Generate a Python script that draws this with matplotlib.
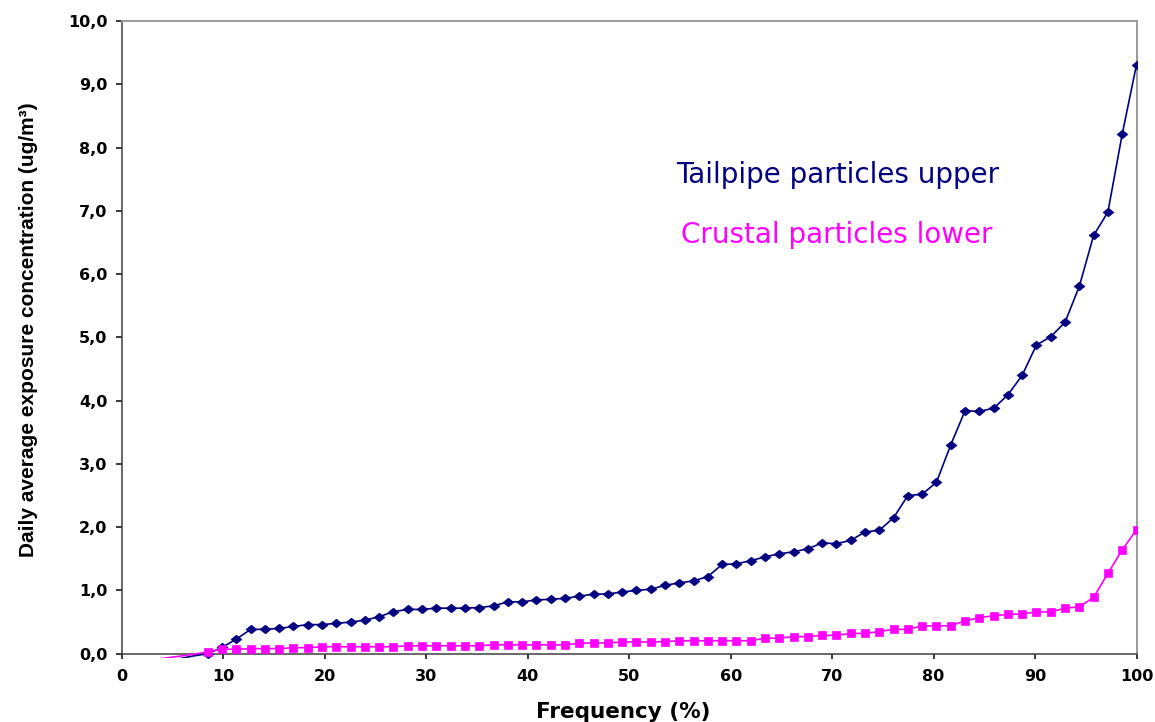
import matplotlib
matplotlib.use("Agg")
import matplotlib.pyplot as plt
from matplotlib import font_manager
from matplotlib.path import Path

# ---------------- data ----------------
frequency = [1.41, 2.82, 4.23, 5.63, 7.04, 8.45, 9.86, 11.27, 12.68, 14.08,
             15.49, 16.90, 18.31, 19.72, 21.13, 22.54, 23.94, 25.35, 26.76, 28.17,
             29.58, 30.99, 32.39, 33.80, 35.21, 36.62, 38.03, 39.44, 40.85, 42.25,
             43.66, 45.07, 46.48, 47.89, 49.30, 50.70, 52.11, 53.52, 54.93, 56.34,
             57.75, 59.15, 60.56, 61.97, 63.38, 64.79, 66.20, 67.61, 69.01, 70.42,
             71.83, 73.24, 74.65, 76.06, 77.46, 78.87, 80.28, 81.69, 83.10, 84.51,
             85.92, 87.32, 88.73, 90.14, 91.55, 92.96, 94.37, 95.77, 97.18, 98.59,
             100.00]

tailpipe_upper = [-0.50, -0.30, -0.15, -0.08, -0.035, 0.00, 0.10, 0.23, 0.385, 0.385,
                  0.40, 0.43, 0.46, 0.46, 0.48, 0.50, 0.53, 0.585, 0.665, 0.70,
                  0.70, 0.72, 0.72, 0.72, 0.73, 0.755, 0.82, 0.82, 0.85, 0.86,
                  0.875, 0.91, 0.94, 0.945, 0.975, 1.00, 1.02, 1.08, 1.12, 1.15,
                  1.22, 1.41, 1.42, 1.47, 1.53, 1.58, 1.61, 1.66, 1.75, 1.74,
                  1.79, 1.925, 1.95, 2.15, 2.50, 2.52, 2.71, 3.30, 3.84, 3.83,
                  3.88, 4.09, 4.40, 4.88, 5.01, 5.24, 5.81, 6.61, 6.98, 8.21,
                  9.31]

crustal_lower = [-0.10, -0.10, -0.07, -0.04, -0.01, 0.03, 0.07, 0.07, 0.08, 0.08,
                 0.08, 0.095, 0.095, 0.11, 0.11, 0.11, 0.11, 0.11, 0.11, 0.125,
                 0.125, 0.125, 0.125, 0.125, 0.125, 0.14, 0.14, 0.14, 0.14, 0.14,
                 0.14, 0.165, 0.17, 0.17, 0.185, 0.185, 0.185, 0.19, 0.205, 0.205,
                 0.205, 0.205, 0.205, 0.205, 0.245, 0.245, 0.27, 0.27, 0.29, 0.29,
                 0.32, 0.32, 0.35, 0.385, 0.385, 0.44, 0.44, 0.44, 0.52, 0.57,
                 0.60, 0.62, 0.63, 0.66, 0.66, 0.72, 0.74, 0.89, 1.27, 1.64,
                 1.96]

x_ticks = [0, 10, 20, 30, 40, 50, 60, 70, 80, 90, 100]
x_tick_labels = ["0", "10", "20", "30", "40", "50", "60", "70", "80", "90", "100"]
y_ticks = [0, 1, 2, 3, 4, 5, 6, 7, 8, 9, 10]
y_tick_labels = ["0,0", "1,0", "2,0", "3,0", "4,0", "5,0", "6,0", "7,0", "8,0", "9,0", "10,0"]

series_names = ["Tailpipe particles upper", "Crustal particles lower"]
x_label = "Frequency (%)"
y_label = "Daily average exposure concentration (ug/m³)"

NAVY = "#000080"
MAGENTA = "#FF00FF"

# ---------------- figure ----------------
W, H = 1155, 722
fig = plt.figure(figsize=(W / 100, H / 100), dpi=100)
fig.patch.set_facecolor("white")

ax = fig.add_axes([122 / W, (H - 657.5) / H, (1136.5 - 122) / W, (657.5 - 21) / H])
ax.set_xlim(0, 100)
ax.set_ylim(-0.06, 10)

diamond = Path([(0, 1), (1.25, 0), (0, -1), (-1.25, 0), (0, 1)],
               [Path.MOVETO, Path.LINETO, Path.LINETO, Path.LINETO, Path.CLOSEPOLY])

ax.plot(frequency, tailpipe_upper, color=NAVY, lw=1.2, marker=diamond,
        markersize=7.8, markerfacecolor=NAVY, markeredgecolor=NAVY,
        markeredgewidth=0.5, markevery=slice(5, None), zorder=3)
ax.plot(frequency, crustal_lower, color=MAGENTA, lw=1.2, marker="s",
        markersize=6.3, markerfacecolor=MAGENTA, markeredgecolor=MAGENTA,
        markeredgewidth=0.5, markevery=slice(5, None), zorder=4)

# spines
ax.spines["bottom"].set_position(("data", 0))
for s in ("left", "bottom"):
    ax.spines[s].set_color("#404040")
    ax.spines[s].set_linewidth(1.1)
for s in ("top", "right"):
    ax.spines[s].set_color("#9a9a9a")
    ax.spines[s].set_linewidth(1.4)
ax.spines["left"].set_bounds(0, 10)
ax.spines["right"].set_bounds(0, 10)

ax.set_xticks(x_ticks)
ax.set_xticklabels(x_tick_labels)
ax.set_yticks(y_ticks)
ax.set_yticklabels(y_tick_labels)
for lab in ax.get_xticklabels() + ax.get_yticklabels():
    lab.set_fontfamily("DejaVu Sans")
    lab.set_fontweight("bold")
    lab.set_fontsize(11.5)
ax.tick_params(axis="y", direction="out", length=4.5, width=1.1, pad=6, colors="black")
ax.tick_params(axis="x", direction="out", length=3.5, width=1.1, pad=7.3, colors="black")
for t in ax.yaxis.get_ticklines() + ax.xaxis.get_ticklines():
    t.set_color("#404040")

# series labels
ax.text(70.5, 7.435, series_names[0], ha="center", va="baseline",
        fontsize=20, color=NAVY, family="DejaVu Sans")
ax.text(70.5, 6.496, series_names[1], ha="center", va="baseline",
        fontsize=20, color=MAGENTA, family="DejaVu Sans")

# axis titles
fig.text(623.4 / W, (H - 718) / H, x_label, ha="center", va="baseline",
         fontsize=15.5, fontweight="bold", family="DejaVu Sans")

names = {f.name for f in font_manager.fontManager.ttflist}
if "Liberation Sans Narrow" in names:
    yfam = "Liberation Sans Narrow"
elif "DejaVu Sans Condensed" in names:
    yfam = "DejaVu Sans Condensed"
else:
    yfam = "Liberation Sans"
ylab = fig.text(29 / W, (H - 330) / H, y_label, rotation=90, ha="center",
                va="center", fontsize=14, fontweight="bold", family=yfam)

# fit y-label length to ~455 px
renderer = fig.canvas.get_renderer()
for _ in range(3):
    bb = ylab.get_window_extent(renderer)
    ylab.set_fontsize(ylab.get_fontsize() * 455.0 / bb.height)

fig.savefig("out.png", dpi=100, facecolor="white")
